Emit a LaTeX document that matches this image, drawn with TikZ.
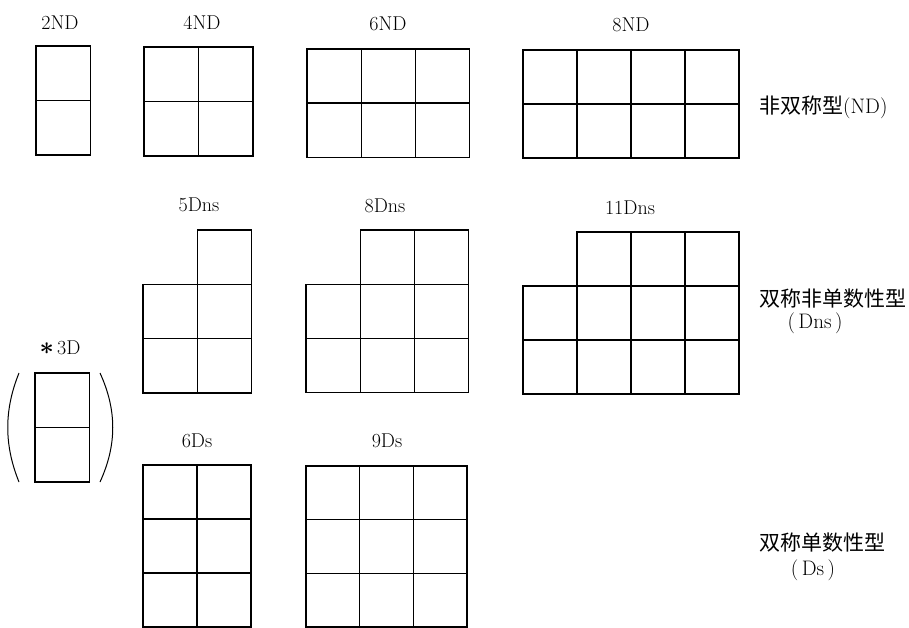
\documentclass[tikz,border=0pt]{standalone}
\usepackage{fontspec}
\newfontfamily\cjk{Noto Sans CJK SC}
\usetikzlibrary{positioning}

% cells of one grid: origin x, origin y, cell size, list of col/row
\newcommand{\drawcells}[4]{%
  \foreach \c/\r in {#4} \draw[cell] (#1+\c*#3, #2+\r*#3) rectangle ++(#3,#3);}

\begin{document}
\begin{tikzpicture}[
    x=1pt, y=-1pt,
    cell/.style={draw, line width=1.4pt},
    lbl/.style={font=\fontsize{20}{24}\selectfont, inner sep=0pt},
    kind/.style={font=\fontsize{21}{25}\selectfont, inner sep=0pt, anchor=west},
    paren/.style={line width=1pt}
]
    \useasboundingbox (0,0) rectangle (909,628);

    % non-symmetric row
    \drawcells{36}{46}{54.5}{0/0,0/1}
    \drawcells{144}{47}{54.5}{0/0,1/0,0/1,1/1}
    \drawcells{307}{49}{54.2}{0/0,1/0,2/0,0/1,1/1,2/1}
    \drawcells{523}{50}{54}{0/0,1/0,2/0,3/0,0/1,1/1,2/1,3/1}
    \node[lbl] (nd2) at (60,23) {2ND};
    \node[lbl] (nd4) at (202,23) {4ND};
    \node[lbl] (nd6) at (388,24) {6ND};
    \node[lbl] (nd8) at (631,25) {8ND};
    \node[kind] (ndkind) at (759,107) {{\cjk 非双称型}(ND)};

    % Dns row
    \drawcells{143}{230}{54.3}{1/0,0/1,1/1,0/2,1/2}
    \drawcells{306}{230}{54.2}{1/0,2/0,0/1,1/1,2/1,0/2,1/2,2/2}
    \drawcells{523}{232}{54}{1/0,2/0,3/0,0/1,1/1,2/1,3/1,0/2,1/2,2/2,3/2}
    \node[lbl] (dns5) at (199,205) {5Dns};
    \node[lbl] (dns8) at (385,206) {8Dns};
    \node[lbl] (dns11) at (630,208) {11Dns};
    \node[kind] (dnskind) at (759,299) {\cjk 双称非单数性型};
    \node[lbl, font=\fontsize{21}{25}\selectfont] (dnsabbr) at (815,323) {(\,Dns\,)};

    % 3D in brackets
    \drawcells{35}{373}{54.5}{0/0,0/1}
    \node[lbl] (d3) at (60,348) {{\fontsize{26}{26}\selectfont\boldmath$\ast$}\,3D};
    \draw[paren] (19,373) .. controls (4,410) and (4,445) .. (19,482);
    \draw[paren] (100,373) .. controls (117,410) and (117,445) .. (100,482);

    % Ds row
    \drawcells{143}{465}{54}{0/0,1/0,0/1,1/1,0/2,1/2}
    \drawcells{306}{466}{53.7}{0/0,1/0,2/0,0/1,1/1,2/1,0/2,1/2,2/2}
    \node[lbl] (ds6) at (197,441) {6Ds};
    \node[lbl] (ds9) at (387,441) {9Ds};
    \node[kind] (dskind) at (759,543) {\cjk 双称单数性型};
    \node[lbl, font=\fontsize{21}{25}\selectfont] (dsabbr) at (813,570) {(\,Ds\,)};
\end{tikzpicture}
\end{document}
